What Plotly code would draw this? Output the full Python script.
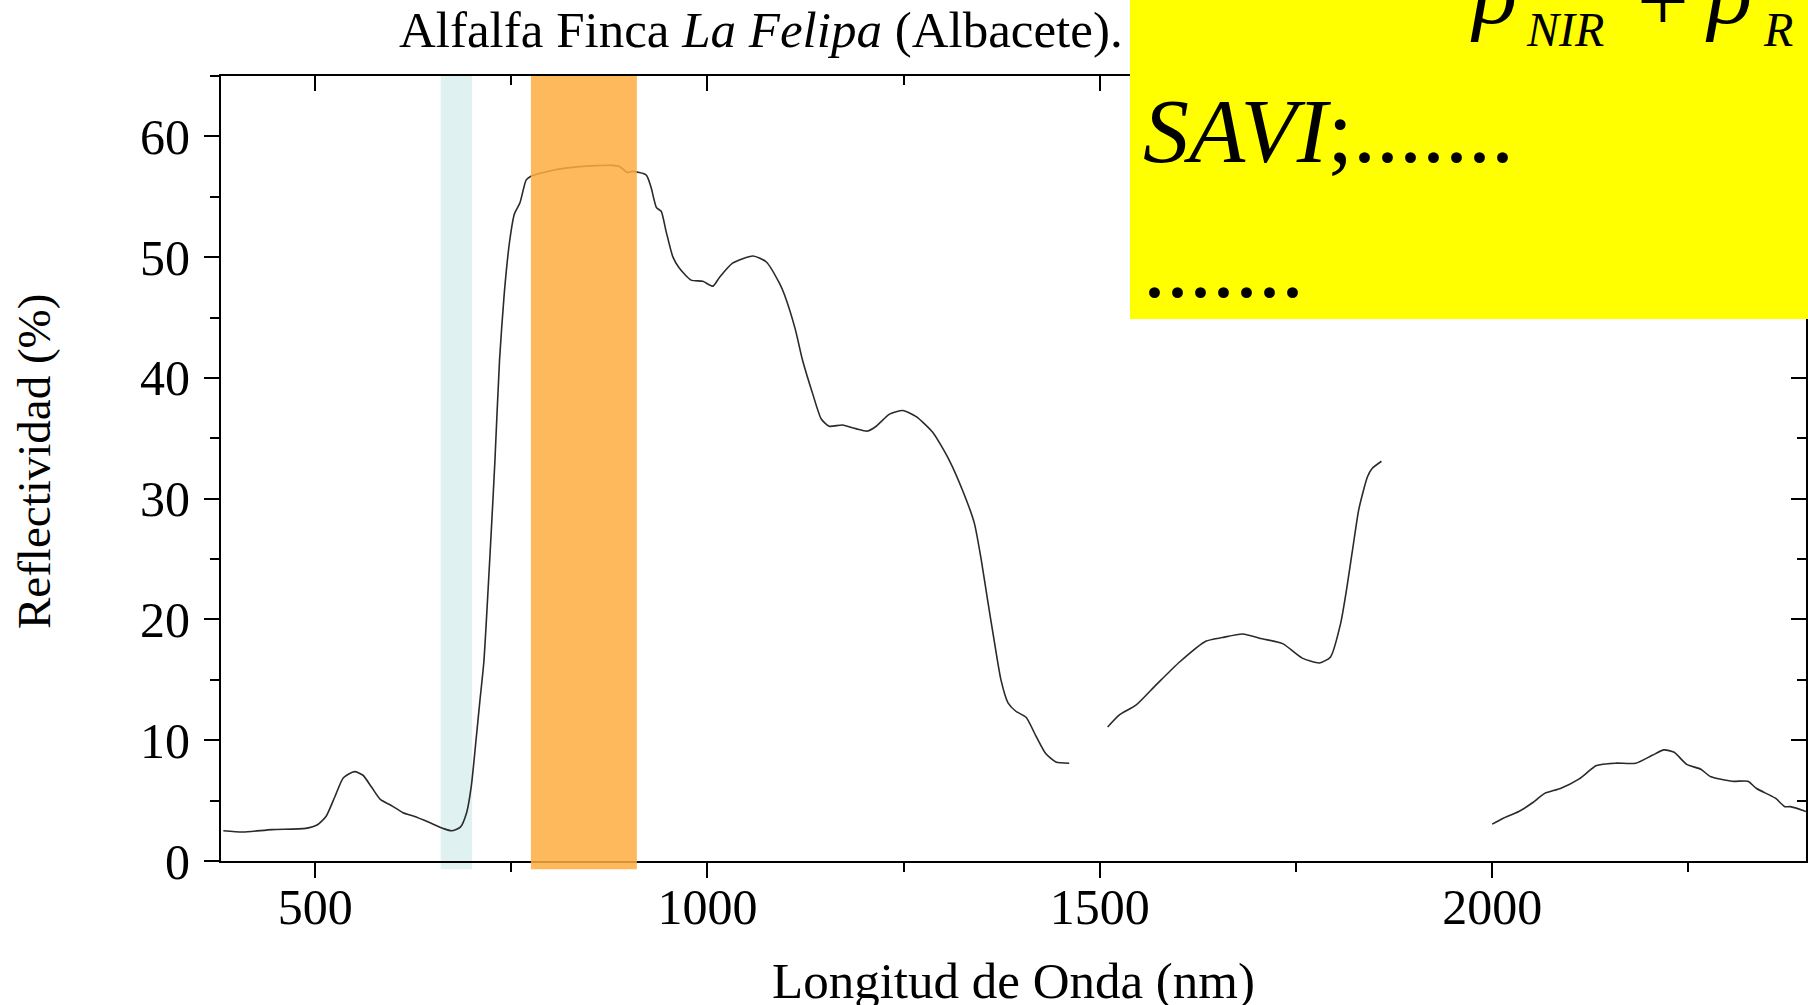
import plotly.graph_objects as go

# ---- data ----
seg1_nm = [383, 408, 445, 488, 503, 514, 525, 536, 550, 561, 572, 583, 597, 612, 626, 645, 663, 674,
           685, 693, 699, 705, 710, 715, 720, 725, 729, 735, 741, 748, 754, 761, 769, 775, 803, 837,
           879, 888, 898, 904, 922, 928, 935, 941, 947, 956, 964, 979, 994, 1007, 1015, 1032, 1058,
           1075, 1092, 1098, 1112, 1121, 1134, 1145, 1155, 1172, 1189, 1204, 1215, 1232, 1249, 1266,
           1287, 1308, 1325, 1340, 1349, 1357, 1366, 1374, 1383, 1393, 1406, 1419, 1431, 1444, 1461]
seg1_r = [2.5, 2.4, 2.6, 2.7, 3.0, 3.7, 5.3, 6.9, 7.4, 7.1, 6.1, 5.1, 4.6, 4.0, 3.7, 3.2, 2.7, 2.5,
          2.8, 4.0, 6.2, 10.0, 13.3, 16.5, 22.0, 28.0, 33.0, 41.5, 47.0, 51.4, 53.6, 54.5, 56.4, 56.7,
          57.2, 57.5, 57.6, 57.5, 57.0, 57.1, 56.8, 55.8, 54.1, 53.8, 52.2, 50.0, 49.1, 48.1, 48.0,
          47.6, 48.3, 49.5, 50.1, 49.6, 47.8, 46.9, 44.0, 41.5, 38.7, 36.6, 36.0, 36.1, 35.8, 35.6,
          36.0, 37.0, 37.3, 36.8, 35.5, 33.2, 30.7, 28.0, 24.9, 21.6, 18.0, 15.0, 13.1, 12.4, 11.9,
          10.3, 8.9, 8.2, 8.1]

seg2_nm = [1510, 1525, 1546, 1572, 1602, 1635, 1656, 1682, 1707, 1733, 1758, 1780, 1794, 1807,
           1815, 1824, 1830, 1841, 1847, 1859]
seg2_r = [11.1, 12.1, 12.9, 14.6, 16.5, 18.2, 18.5, 18.8, 18.4, 18.0, 16.8, 16.4, 16.9, 19.7,
          22.7, 26.6, 29.1, 31.8, 32.5, 33.1]

seg3_nm = [2000, 2013, 2034, 2051, 2067, 2087, 2111, 2133, 2157, 2183, 2204, 2219, 2232, 2248,
           2266, 2278, 2306, 2326, 2337, 2361, 2373, 2380, 2400]
seg3_r = [3.05, 3.5, 4.1, 4.8, 5.6, 6.0, 6.8, 7.9, 8.1, 8.1, 8.75, 9.2, 9.0, 8.0, 7.6, 7.0, 6.6,
          6.6, 6.0, 5.2, 4.5, 4.5, 4.1]

red_band = [660, 700]
nir_band = [775, 910]

x_range = [380, 2400]
y_range = [0, 65]
x_ticks = [500, 1000, 1500, 2000]
y_ticks = [0, 10, 20, 30, 40, 50, 60]

title_text = "Alfalfa Finca <i>La Felipa</i> (Albacete)."
x_title = "Longitud de Onda (nm)"
y_title = "Reflectividad (%)"

# ---- figure ----
W, H = 1808, 1005
ML, MR, MT, MB = 221, 2, 76, 144
PW = W - ML - MR
PH = H - MT - MB


def px_x(p):
    return (p - ML) / PW


def px_y(p):
    return (H - MB - p) / PH


SERIF = "Liberation Serif, Times New Roman, serif"
XTICKFONT = dict(family=SERIF, size=50, color="black")
YTICKFONT = dict(family=SERIF, size=50, color="black")

fig = go.Figure()
x_all, y_all = [], []
for xs, ys in [(seg1_nm, seg1_r), (seg2_nm, seg2_r), (seg3_nm, seg3_r)]:
    x_all += xs + [None]
    y_all += ys + [None]

fig.add_trace(go.Scatter(x=x_all, y=y_all, mode="lines", connectgaps=False,
                         line=dict(color="#2a2a2a", width=1.6, shape="spline", smoothing=0.6),
                         showlegend=False, hoverinfo="skip"))
# dummy trace to activate mirrored (inward tick) axes
fig.add_trace(go.Scatter(x=[x_range[0]], y=[y_range[0]], xaxis="x2", yaxis="y2", mode="markers",
                         marker=dict(opacity=0), showlegend=False, hoverinfo="skip"))

common_line = dict(showline=True, linecolor="black", linewidth=2, showgrid=False, zeroline=False)

fig.update_layout(
    width=W, height=H,
    margin=dict(l=ML, r=MR, t=MT, b=MB),
    paper_bgcolor="white", plot_bgcolor="white",
    xaxis=dict(range=x_range, tickvals=x_ticks, ticks="outside", ticklen=15, tickwidth=2,
               tickcolor="black", tickfont=XTICKFONT, ticklabelstandoff=-14,
               minor=dict(dtick=250, tick0=0, ticks="outside", ticklen=9, tickwidth=2, tickcolor="black"),
               **common_line),
    yaxis=dict(range=y_range, tickvals=y_ticks, ticks="outside", ticklen=15, tickwidth=2,
               tickcolor="black", tickfont=YTICKFONT, ticklabelstandoff=4,
               minor=dict(dtick=5, tick0=0, ticks="outside", ticklen=9, tickwidth=2, tickcolor="black"),
               **common_line),
    xaxis2=dict(range=x_range, overlaying="x", side="top", anchor="y", tickvals=x_ticks,
                ticks="inside", ticklen=15, tickwidth=2, tickcolor="black", showticklabels=False,
                minor=dict(dtick=250, tick0=0, ticks="inside", ticklen=9, tickwidth=2, tickcolor="black"),
                **common_line),
    yaxis2=dict(range=y_range, overlaying="y", side="right", anchor="x", tickvals=y_ticks,
                ticks="inside", ticklen=15, tickwidth=2, tickcolor="black", showticklabels=False,
                minor=dict(dtick=5, tick0=0, ticks="inside", ticklen=9, tickwidth=2, tickcolor="black"),
                **common_line),
)

shapes = [
    dict(type="rect", xref="x", yref="paper", x0=red_band[0], x1=red_band[1], y0=-0.0105, y1=1,
         fillcolor="#DFF1F0", line=dict(width=0), layer="below"),
    dict(type="rect", xref="x", yref="paper", x0=nir_band[0], x1=nir_band[1], y0=-0.0105, y1=1,
         fillcolor="#FDAD3E", opacity=0.85, line=dict(width=0), layer="above"),
    dict(type="rect", xref="paper", yref="paper", x0=px_x(1130), x1=1.05, y0=px_y(319), y1=1.2,
         fillcolor="#FFFF00", line=dict(width=0), layer="above"),
]
fig.update_layout(shapes=shapes)

BIG = 92
SUB = 48
ann = [
    # chart title
    dict(text=title_text, x=px_x(397), y=px_y(30), xanchor="left", yanchor="middle",
         font=dict(family=SERIF, size=51, color="black")),
    # axis titles
    dict(text=x_title, x=0.5, y=px_y(981), xanchor="center", yanchor="middle",
         font=dict(family=SERIF, size=51, color="black")),
    dict(text=y_title, x=px_x(34), y=px_y(462), xanchor="center", yanchor="middle", textangle=-90,
         font=dict(family=SERIF, size=47, color="black")),
    # yellow box text
    dict(text="<i>SAVI</i>;.......", x=px_x(1141), y=px_y(131), xanchor="left", yanchor="middle",
         font=dict(family=SERIF, size=BIG, color="black")),
    dict(text=".......", x=px_x(1141), y=px_y(266), xanchor="left", yanchor="middle",
         font=dict(family=SERIF, size=BIG, color="black")),
    dict(text="<i>ρ</i>", x=px_x(1468), y=px_y(-8), xanchor="left", yanchor="middle",
         font=dict(family=SERIF, size=BIG, color="black")),
    dict(text="<i>NIR</i>", x=px_x(1524), y=px_y(29), xanchor="left", yanchor="middle",
         font=dict(family=SERIF, size=SUB, color="black")),
    dict(text="+", x=px_x(1663), y=px_y(0), xanchor="center", yanchor="middle",
         font=dict(family=SERIF, size=BIG, color="black")),
    dict(text="<i>ρ</i>", x=px_x(1703), y=px_y(-8), xanchor="left", yanchor="middle",
         font=dict(family=SERIF, size=BIG, color="black")),
    dict(text="<i>R</i>", x=px_x(1761), y=px_y(29), xanchor="left", yanchor="middle",
         font=dict(family=SERIF, size=SUB, color="black")),
]
for a in ann:
    a.update(xref="paper", yref="paper", showarrow=False)
fig.update_layout(annotations=ann)

fig.write_html("out.html", config={"displayModeBar": False},
               post_script="document.body.style.margin='0';document.body.style.overflow='hidden';")
